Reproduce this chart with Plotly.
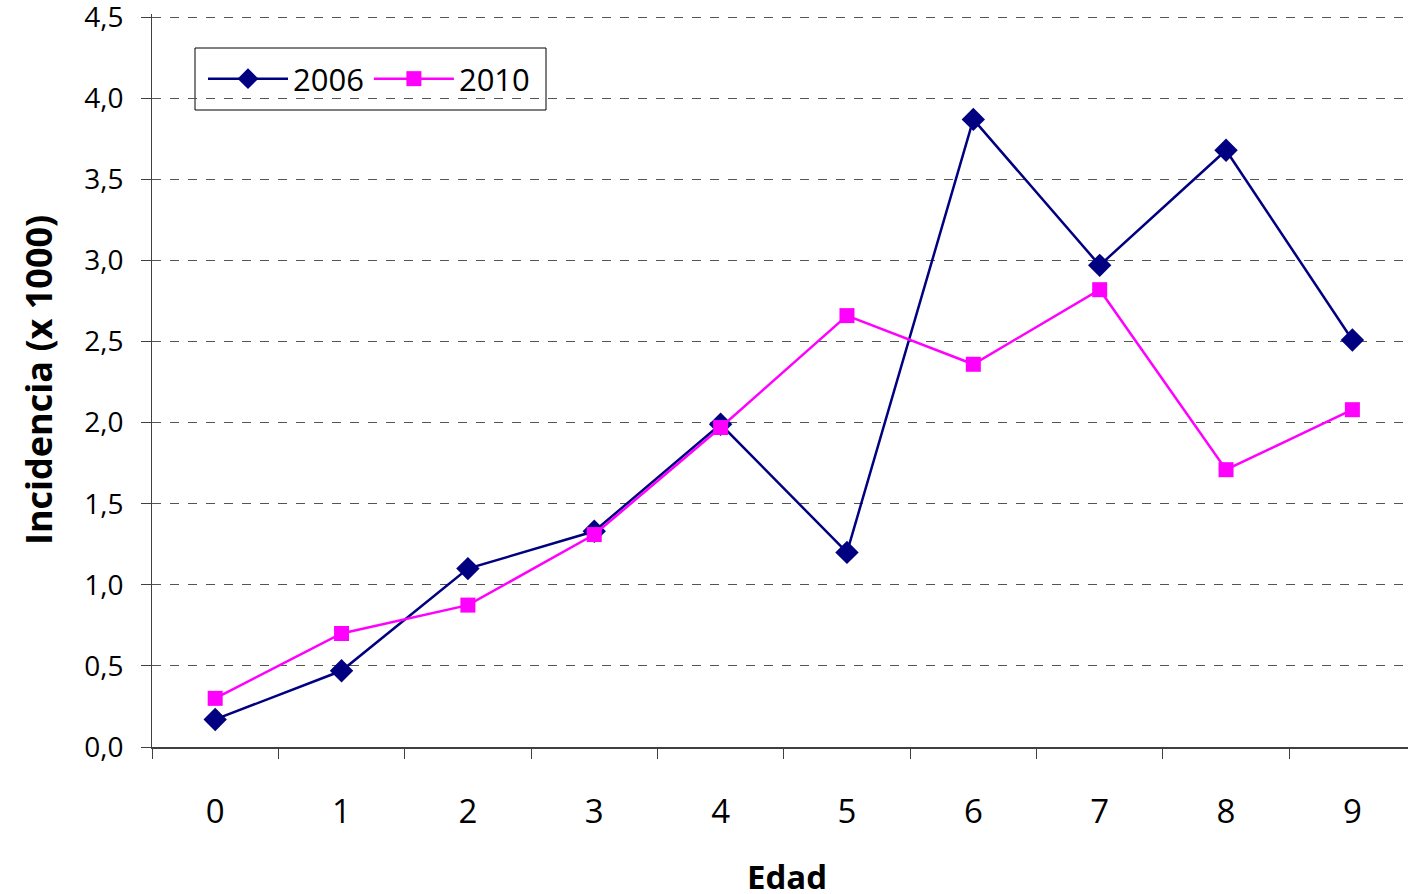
import plotly.graph_objects as go

# Age groups and incidence per 1000
edad = ["0", "1", "2", "3", "4", "5", "6", "7", "8", "9"]
inc_2006 = [0.17, 0.47, 1.10, 1.33, 1.99, 1.20, 3.87, 2.97, 3.68, 2.51]
inc_2010 = [0.30, 0.70, 0.875, 1.31, 1.97, 2.66, 2.36, 2.82, 1.71, 2.08]

y_ticks = [0, 0.5, 1.0, 1.5, 2.0, 2.5, 3.0, 3.5, 4.0, 4.5]
y_labels = ["0,0", "0,5", "1,0", "1,5", "2,0", "2,5", "3,0", "3,5", "4,0", "4,5"]

FONT = "Open Sans, Liberation Sans, sans-serif"

# plot area geometry (pixels)
W, H = 1408, 894
L, T, B = 152, 14, 147
PW, PH = W - L, H - T - B

fig = go.Figure()
fig.add_trace(go.Scatter(
    x=edad, y=inc_2006, name="2006", mode="lines+markers",
    line=dict(color="#000080", width=2.5),
    marker=dict(symbol="diamond", size=18, color="#000080"),
))
fig.add_trace(go.Scatter(
    x=edad, y=inc_2010, name="2010", mode="lines+markers",
    line=dict(color="#FF00FF", width=2.5),
    marker=dict(symbol="square", size=15, color="#FF00FF"),
))


def px(xp):
    return (xp - L) / PW


def py(yp):
    return (H - B - yp) / PH


fig.update_layout(
    width=W, height=H,
    margin=dict(l=L, r=0, t=T, b=B, autoexpand=False),
    paper_bgcolor="white", plot_bgcolor="white",
    font=dict(family=FONT, color="black"),
    showlegend=True,
    legend=dict(
        x=px(203), y=py(79),
        xanchor="left", yanchor="middle",
        orientation="h",
        borderwidth=0,
        bgcolor="rgba(0,0,0,0)",
        font=dict(size=31, family=FONT),
        itemwidth=80,
    ),
    shapes=[
        dict(type="rect", xref="paper", yref="paper",
             x0=px(195), x1=px(546), y0=py(110), y1=py(48),
             line=dict(color="black", width=1), fillcolor="white", layer="below"),
    ],
    xaxis=dict(
        type="category",
        range=[-0.5, 9.44],
        tickson="boundaries",
        ticks="outside", ticklen=10, tickcolor="#404040", tickwidth=1,
        showline=True, linecolor="#404040", linewidth=2,
        showgrid=False, zeroline=False, automargin=False,
        tickfont=dict(size=33, family=FONT),
        ticklabelstandoff=34,
    ),
    yaxis=dict(
        range=[0, 4.52],
        tickvals=y_ticks, ticktext=y_labels,
        ticks="outside", ticklen=10, tickcolor="#404040", tickwidth=1,
        showline=True, linecolor="#404040", linewidth=1,
        showgrid=True, gridcolor="#555555", gridwidth=1, griddash="dash",
        zeroline=False, automargin=False,
        tickfont=dict(size=28, family=FONT),
        ticklabelstandoff=12,
        ticklabeloverflow="allow",
    ),
    annotations=[
        dict(text="<b>Edad</b>", xref="paper", yref="paper",
             x=px(787), y=py(876),
             xanchor="center", yanchor="middle", showarrow=False,
             font=dict(size=33, family=FONT)),
        dict(text="<b>Incidencia (x 1000)</b>", xref="paper", yref="paper",
             x=px(38), y=py(380), textangle=-90,
             xanchor="center", yanchor="middle", showarrow=False,
             font=dict(size=36, family=FONT)),
    ],
)

fig.write_html("out.html")
